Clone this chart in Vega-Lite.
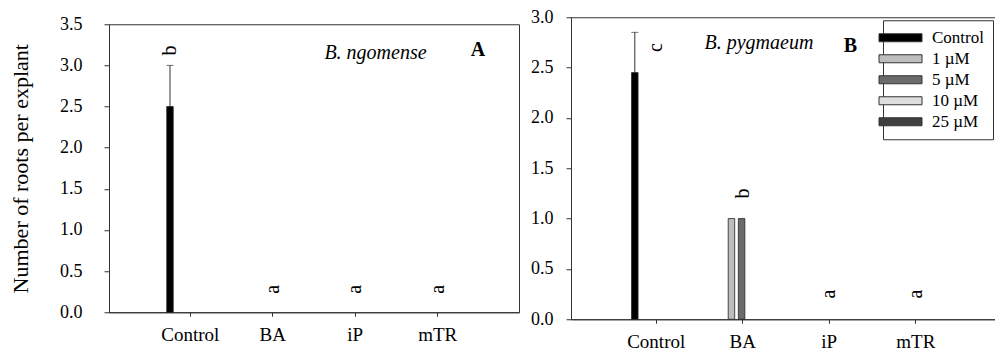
{
  "$schema": "https://vega.github.io/schema/vega-lite/v6.json",
  "padding": {"left": 8, "top": 7, "right": 0, "bottom": 0},
  "config": {
    "view": {"stroke": "#333", "strokeWidth": 1},
    "font": "Liberation Serif",
    "axis": {"labelFont": "Liberation Serif", "titleFont": "Liberation Serif", "labelColor": "#000", "titleColor": "#000", "domainColor": "#333", "tickColor": "#333", "grid": false, "labelFontSize": 18, "titleFontSize": 22, "titleFontWeight": "normal"},
    "axisX": {"labelAngle": 0, "tickSize": 4, "labelPadding": 9, "labelFontSize": 19},
    "axisY": {"tickSize": 5},
    "legend": {"labelFont": "Liberation Serif", "labelFontSize": 17, "labelColor": "#000", "strokeColor": "#333", "fillColor": "white", "padding": 9, "symbolType": "M-5.375,-1H5.375V1H-5.375Z", "symbolSize": 64, "symbolStrokeColor": "#333", "symbolStrokeWidth": 1, "labelOffset": 23, "rowPadding": 3, "symbolOpacity": 1}
  },
  "datasets": {
    "barsA": [
      {"group": "Control", "conc": "Control", "value": 2.5, "upper": 3.0},
      {"group": "BA", "conc": "1 µM", "value": 0, "upper": 0},
      {"group": "BA", "conc": "5 µM", "value": 0, "upper": 0},
      {"group": "BA", "conc": "10 µM", "value": 0, "upper": 0},
      {"group": "BA", "conc": "25 µM", "value": 0, "upper": 0},
      {"group": "iP", "conc": "1 µM", "value": 0, "upper": 0},
      {"group": "iP", "conc": "5 µM", "value": 0, "upper": 0},
      {"group": "iP", "conc": "10 µM", "value": 0, "upper": 0},
      {"group": "iP", "conc": "25 µM", "value": 0, "upper": 0},
      {"group": "mTR", "conc": "1 µM", "value": 0, "upper": 0},
      {"group": "mTR", "conc": "5 µM", "value": 0, "upper": 0},
      {"group": "mTR", "conc": "10 µM", "value": 0, "upper": 0},
      {"group": "mTR", "conc": "25 µM", "value": 0, "upper": 0}
    ],
    "barsB": [
      {"group": "Control", "conc": "Control", "value": 2.45, "upper": 2.85},
      {"group": "BA", "conc": "1 µM", "value": 1.0, "upper": 1.0},
      {"group": "BA", "conc": "5 µM", "value": 1.0, "upper": 1.0},
      {"group": "BA", "conc": "10 µM", "value": 0, "upper": 0},
      {"group": "BA", "conc": "25 µM", "value": 0, "upper": 0},
      {"group": "iP", "conc": "1 µM", "value": 0, "upper": 0},
      {"group": "iP", "conc": "5 µM", "value": 0, "upper": 0},
      {"group": "iP", "conc": "10 µM", "value": 0, "upper": 0},
      {"group": "iP", "conc": "25 µM", "value": 0, "upper": 0},
      {"group": "mTR", "conc": "1 µM", "value": 0, "upper": 0},
      {"group": "mTR", "conc": "5 µM", "value": 0, "upper": 0},
      {"group": "mTR", "conc": "10 µM", "value": 0, "upper": 0},
      {"group": "mTR", "conc": "25 µM", "value": 0, "upper": 0}
    ],
    "lettersAbar": [
      {"group": "Control", "conc": "Control", "value": 3.18, "letter": "b"}
    ],
    "lettersA": [
      {"group": "BA", "value": 0.28, "letter": "a"},
      {"group": "iP", "value": 0.28, "letter": "a"},
      {"group": "mTR", "value": 0.28, "letter": "a"}
    ],
    "lettersB": [
      {"group": "Control", "value": 2.7, "letter": "c"},
      {"group": "BA", "value": 1.25, "letter": "b"},
      {"group": "iP", "value": 0.25, "letter": "a"},
      {"group": "mTR", "value": 0.25, "letter": "a"}
    ],
    "notesA": [
      {"label": "B. ngomense", "kind": "species", "xpos": 0.65, "value": 3.08},
      {"label": "A", "kind": "panel", "xpos": 0.9, "value": 3.12}
    ],
    "notesB": [
      {"label": "B. pygmaeum", "kind": "species", "xpos": 0.437, "value": 2.68},
      {"label": "B", "kind": "panel", "xpos": 0.65, "value": 2.65}
    ]
  },
  "spacing": 10,
  "center": true,
  "resolve": {"scale": {"color": "independent"}, "legend": {"color": "independent"}},
  "hconcat": [
    {
      "width": 410,
      "height": 288,
      "resolve": {"scale": {"x": "independent"}},
      "layer": [
        {
          "layer": [
            {
              "data": {"name": "barsA"},
              "transform": [{"filter": "datum.value > 0"}],
              "mark": {"type": "bar", "stroke": "#222", "strokeWidth": 0.8},
              "encoding": {
                "x": {"field": "group", "type": "nominal", "sort": ["Control", "BA", "iP", "mTR"], "scale": {"domain": ["Control", "BA", "iP", "mTR"], "paddingInner": 0.43, "paddingOuter": 0.7}, "axis": {"title": null}},
                "xOffset": {"field": "conc", "type": "nominal", "scale": {"domain": ["Control", "1 µM", "5 µM", "10 µM", "25 µM"], "paddingInner": 0.36, "paddingOuter": 0}},
                "y": {"field": "value", "type": "quantitative", "title": "Number of roots per explant", "scale": {"domain": [0, 3.5], "nice": false}, "axis": {"values": [0, 0.5, 1, 1.5, 2, 2.5, 3, 3.5], "format": ".1f", "labelPadding": 22, "titlePadding": 27}},
                "color": {"field": "conc", "type": "nominal", "scale": {"domain": ["Control", "1 µM", "5 µM", "10 µM", "25 µM"], "range": ["#000000", "#bdbdbd", "#6b6b6b", "#dedede", "#404040"]}, "legend": null}
              }
            },
            {
              "data": {"name": "barsA"},
              "transform": [{"filter": "datum.upper > datum.value"}],
              "mark": {"type": "rule", "color": "#333", "strokeWidth": 1},
              "encoding": {
                "x": {"field": "group", "type": "nominal", "sort": ["Control", "BA", "iP", "mTR"]},
                "xOffset": {"field": "conc", "type": "nominal"},
                "y": {"field": "value", "type": "quantitative", "title": "Number of roots per explant"},
                "y2": {"field": "upper"}
              }
            },
            {
              "data": {"name": "barsA"},
              "transform": [{"filter": "datum.upper > datum.value"}],
              "mark": {"type": "tick", "color": "#333", "thickness": 1, "size": 7},
              "encoding": {
                "x": {"field": "group", "type": "nominal", "sort": ["Control", "BA", "iP", "mTR"]},
                "xOffset": {"field": "conc", "type": "nominal"},
                "y": {"field": "upper", "type": "quantitative", "title": "Number of roots per explant"}
              }
            },
            {
              "data": {"name": "lettersAbar"},
              "mark": {"type": "text", "angle": 270, "fontSize": 20, "font": "Liberation Serif", "baseline": "middle", "align": "center", "color": "#000"},
              "encoding": {
                "x": {"field": "group", "type": "nominal", "sort": ["Control", "BA", "iP", "mTR"]},
                "xOffset": {"field": "conc", "type": "nominal"},
                "y": {"field": "value", "type": "quantitative", "title": "Number of roots per explant"},
                "text": {"field": "letter"}
              }
            },
            {
              "data": {"name": "lettersA"},
              "mark": {"type": "text", "angle": 270, "fontSize": 20, "font": "Liberation Serif", "baseline": "middle", "align": "center", "color": "#000"},
              "encoding": {
                "x": {"field": "group", "type": "nominal", "sort": ["Control", "BA", "iP", "mTR"]},
                "y": {"field": "value", "type": "quantitative", "title": "Number of roots per explant"},
                "text": {"field": "letter"}
              }
            }
          ]
        },
        {
          "data": {"name": "notesA"},
          "transform": [{"filter": "datum.kind === 'species'"}],
          "mark": {"type": "text", "fontSize": 20, "font": "Liberation Serif", "fontStyle": "italic", "align": "center", "baseline": "alphabetic", "color": "#000"},
          "encoding": {
            "x": {"field": "xpos", "type": "quantitative", "scale": {"domain": [0, 1], "nice": false, "zero": false}, "axis": null},
            "y": {"field": "value", "type": "quantitative", "title": "Number of roots per explant"},
            "text": {"field": "label"}
          }
        },
        {
          "data": {"name": "notesA"},
          "transform": [{"filter": "datum.kind === 'panel'"}],
          "mark": {"type": "text", "fontSize": 20, "font": "Liberation Serif", "fontWeight": "bold", "align": "center", "baseline": "alphabetic", "color": "#000"},
          "encoding": {
            "x": {"field": "xpos", "type": "quantitative", "scale": {"domain": [0, 1], "nice": false, "zero": false}, "axis": null},
            "y": {"field": "value", "type": "quantitative", "title": "Number of roots per explant"},
            "text": {"field": "label"}
          }
        }
      ]
    },
    {
      "width": 430,
      "height": 302,
      "resolve": {"scale": {"x": "independent"}},
      "layer": [
        {
          "layer": [
            {
              "data": {"name": "barsB"},
              "transform": [{"filter": "datum.value > 0"}],
              "mark": {"type": "bar", "stroke": "#222", "strokeWidth": 0.8},
              "encoding": {
                "x": {"field": "group", "type": "nominal", "sort": ["Control", "BA", "iP", "mTR"], "scale": {"domain": ["Control", "BA", "iP", "mTR"], "paddingInner": 0.43, "paddingOuter": 0.7}, "axis": {"title": null}},
                "xOffset": {"field": "conc", "type": "nominal", "scale": {"domain": ["Control", "1 µM", "5 µM", "10 µM", "25 µM"], "paddingInner": 0.36, "paddingOuter": 0}},
                "y": {"field": "value", "type": "quantitative", "title": null, "scale": {"domain": [0, 3.0], "nice": false}, "axis": {"values": [0, 0.5, 1, 1.5, 2, 2.5, 3], "format": ".1f", "labelPadding": 13}},
                "color": {"field": "conc", "type": "nominal", "scale": {"domain": ["Control", "1 µM", "5 µM", "10 µM", "25 µM"], "range": ["#000000", "#bdbdbd", "#6b6b6b", "#dedede", "#404040"]}, "legend": {"orient": "none", "legendX": 312, "legendY": 3, "title": null}}
              }
            },
            {
              "data": {"name": "barsB"},
              "transform": [{"filter": "datum.upper > datum.value"}],
              "mark": {"type": "rule", "color": "#333", "strokeWidth": 1},
              "encoding": {
                "x": {"field": "group", "type": "nominal", "sort": ["Control", "BA", "iP", "mTR"]},
                "xOffset": {"field": "conc", "type": "nominal"},
                "y": {"field": "value", "type": "quantitative", "title": null},
                "y2": {"field": "upper"}
              }
            },
            {
              "data": {"name": "barsB"},
              "transform": [{"filter": "datum.upper > datum.value"}],
              "mark": {"type": "tick", "color": "#333", "thickness": 1, "size": 7},
              "encoding": {
                "x": {"field": "group", "type": "nominal", "sort": ["Control", "BA", "iP", "mTR"]},
                "xOffset": {"field": "conc", "type": "nominal"},
                "y": {"field": "upper", "type": "quantitative", "title": null}
              }
            },
            {
              "data": {"name": "lettersB"},
              "mark": {"type": "text", "angle": 270, "fontSize": 20, "font": "Liberation Serif", "baseline": "middle", "align": "center", "color": "#000"},
              "encoding": {
                "x": {"field": "group", "type": "nominal", "sort": ["Control", "BA", "iP", "mTR"]},
                "y": {"field": "value", "type": "quantitative", "title": null},
                "text": {"field": "letter"}
              }
            }
          ]
        },
        {
          "data": {"name": "notesB"},
          "transform": [{"filter": "datum.kind === 'species'"}],
          "mark": {"type": "text", "fontSize": 20, "font": "Liberation Serif", "fontStyle": "italic", "align": "center", "baseline": "alphabetic", "color": "#000"},
          "encoding": {
            "x": {"field": "xpos", "type": "quantitative", "scale": {"domain": [0, 1], "nice": false, "zero": false}, "axis": null},
            "y": {"field": "value", "type": "quantitative", "title": null},
            "text": {"field": "label"}
          }
        },
        {
          "data": {"name": "notesB"},
          "transform": [{"filter": "datum.kind === 'panel'"}],
          "mark": {"type": "text", "fontSize": 20, "font": "Liberation Serif", "fontWeight": "bold", "align": "center", "baseline": "alphabetic", "color": "#000"},
          "encoding": {
            "x": {"field": "xpos", "type": "quantitative", "scale": {"domain": [0, 1], "nice": false, "zero": false}, "axis": null},
            "y": {"field": "value", "type": "quantitative", "title": null},
            "text": {"field": "label"}
          }
        }
      ]
    }
  ]
}
